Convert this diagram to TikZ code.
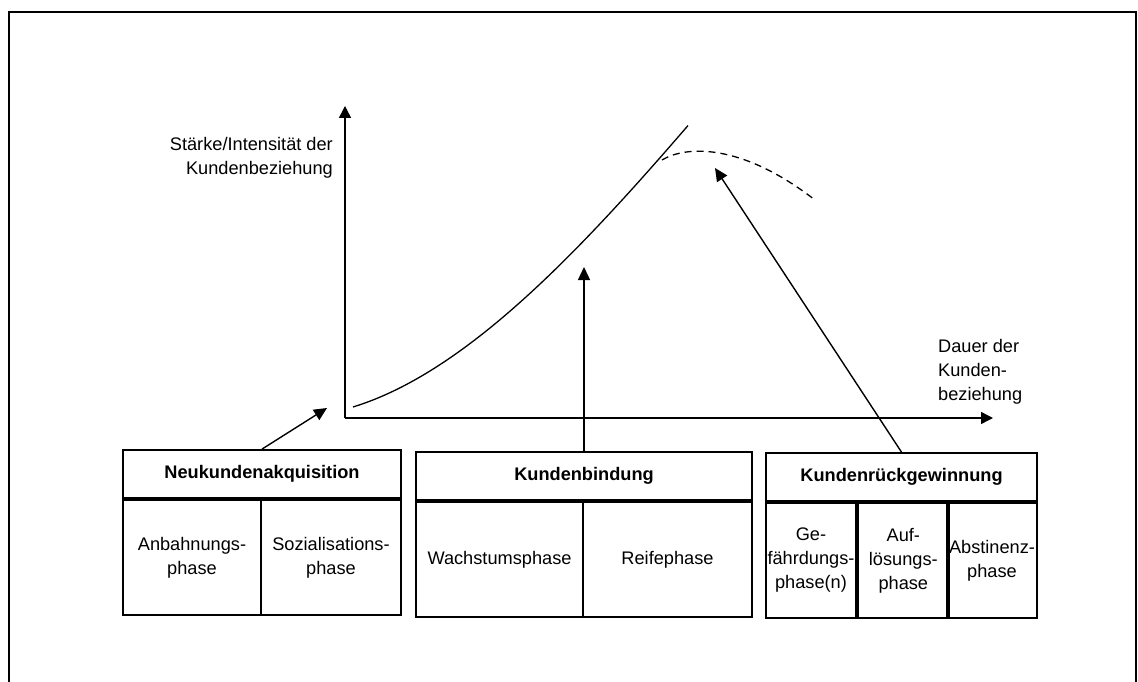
\documentclass[tikz,border=0pt]{standalone}
\usepackage{fontspec}
\setmainfont{Liberation Sans}
\usetikzlibrary{arrows.meta}
\begin{document}
\begin{tikzpicture}[x=1pt,y=-1pt,
  font=\fontsize{18.2}{24}\selectfont,
  axis/.style={line width=1.4pt,-{Triangle[length=12pt,width=12pt]}},
  pointer/.style={line width=1.4pt,-{Triangle[length=13pt,width=12pt]}},
  head/.style={draw,line width=1.8pt,minimum height=48pt,inner sep=0pt,font=\fontsize{18.2}{24}\selectfont\bfseries},
  cell/.style={draw,line width=1.8pt,minimum height=115pt,inner sep=0pt,align=center},
  lbl/.style={inner sep=0pt}]
\useasboundingbox (0,0) rectangle (1138,682);
% outer frame (bottom edge lies below the page)
\draw[line width=2.4pt] (9,682) -- (9,12) -- (1136,12) -- (1136,682);

% axes
\coordinate (o) at (345,418);
\coordinate (ytop) at (345,106);
\coordinate (xend) at (993,418);
\draw[axis] (o) -- (ytop);
\draw[axis] (o) -- (xend);
\node[lbl,anchor=north east,align=right] (ylab) at (333,137) {Stärke/Intensität der\\Kundenbeziehung};
\node[lbl,anchor=north west,align=left] (xlab) at (938,339) {Dauer der\\Kunden-\\beziehung};

% relationship curve (cubic in the scaled distance v) and its dashed decline
\draw[line width=1.3pt] plot[domain=0:3.35,samples=60,smooth]
  ({353+100*\x}, {407-30.8*\x-22.25*\x*\x+1.9*\x*\x*\x});
\draw[line width=1.3pt,dash pattern=on 7pt off 5pt] (662,160) .. controls (685,146) and (740,142) .. (815,200);

% phase boxes
\node[head,minimum width=278pt] (h1) at (262,474) {Neukundenakquisition};
\node[cell,minimum width=138pt,anchor=north west] (c11) at (h1.south west) {Anbahnungs-\\phase};
\node[cell,minimum width=140pt,anchor=north east] (c12) at (h1.south east) {Sozialisations-\\phase};

\node[head,minimum width=336pt] (h2) at (584,476) {Kundenbindung};
\node[cell,minimum width=167pt,anchor=north west] (c21) at (h2.south west) {Wachstumsphase};
\node[cell,minimum width=169pt,anchor=north east] (c22) at (h2.south east) {Reifephase};

\node[head,minimum width=271pt] (h3) at (901.5,477) {Kundenrückgewinnung};
\node[cell,minimum width=90pt,anchor=north west] (c31) at (h3.south west) {Ge-\\fährdungs-\\phase(n)};
\node[cell,minimum width=91pt,anchor=north west] (c32) at (c31.north east) {Auf-\\lösungs-\\phase};
\node[cell,minimum width=90pt,anchor=north east] (c33) at (h3.south east) {Abstinenz-\\phase};

% arrows from the phases into the chart
\coordinate (t1) at (327,408);
\coordinate (t2) at (584,267);
\coordinate (t3) at (715,168);
\draw[pointer] (h1.north) -- (t1);
\draw[pointer] (h2.north) -- (t2);
\draw[pointer] (h3.north) -- (t3);
\end{tikzpicture}
\end{document}
